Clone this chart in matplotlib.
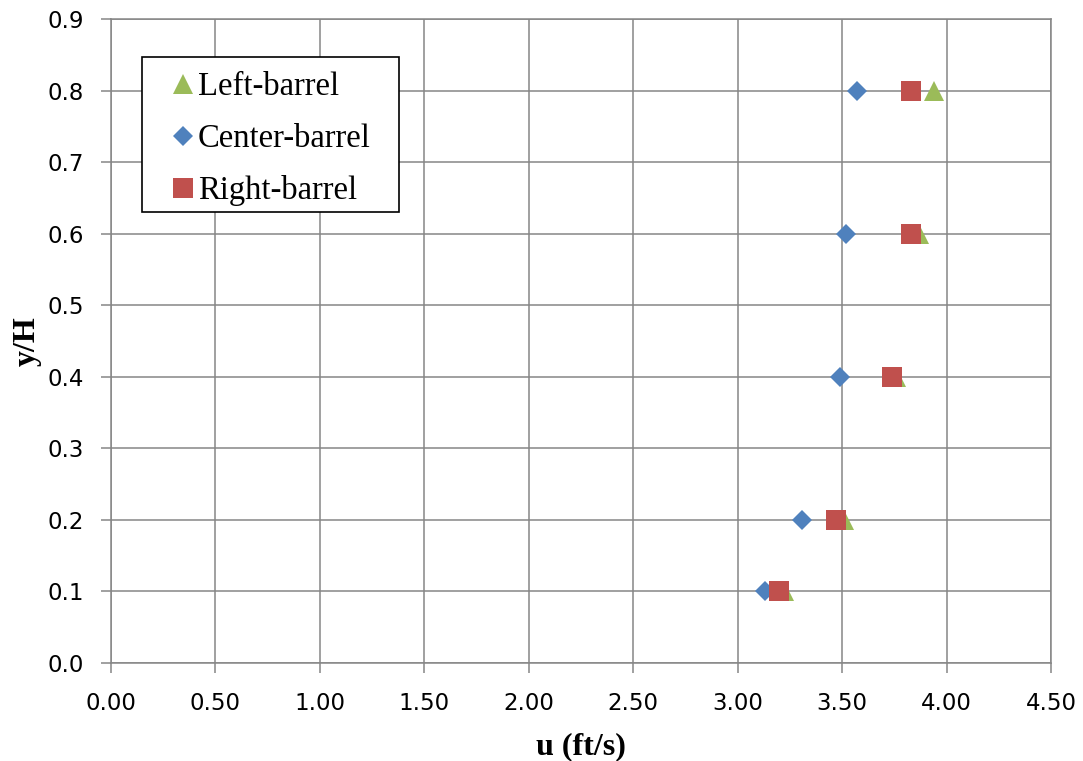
import matplotlib
matplotlib.use("Agg")
import matplotlib.pyplot as plt
from matplotlib.patches import Rectangle

y_levels = [0.1, 0.2, 0.4, 0.6, 0.8]
u_left = [3.22, 3.51, 3.76, 3.87, 3.94]
u_center = [3.13, 3.31, 3.49, 3.52, 3.57]
u_right = [3.20, 3.47, 3.74, 3.83, 3.83]

x_ticks = [0.0, 0.5, 1.0, 1.5, 2.0, 2.5, 3.0, 3.5, 4.0, 4.5]
y_ticks = [0.0, 0.1, 0.2, 0.3, 0.4, 0.5, 0.6, 0.7, 0.8, 0.9]

green = "#9BBB59"
blue = "#4F81BD"
red = "#C0504D"
grid_c = "#868686"

fig = plt.figure(figsize=(10.83, 7.61), dpi=100)
ax = fig.add_axes([111/1083, 1-663/761, 940/1083, 644/761])

ax.plot(u_left, y_levels, linestyle="none", marker="^", ms=15, mew=0, color=green, label="Left-barrel", zorder=3)
ax.plot(u_center, y_levels, linestyle="none", marker="D", ms=10, mew=0, color=blue, label="Center-barrel", zorder=3)
ax.plot(u_right, y_levels, linestyle="none", marker="s", ms=14.5, mew=0, color=red, label="Right-barrel", zorder=3)

ax.set_xlim(0, 4.5)
ax.set_ylim(0, 0.9)
ax.set_xticks(x_ticks)
ax.set_xticklabels([f"{v:.2f}" for v in x_ticks])
ax.set_yticks(y_ticks)
ax.set_yticklabels([f"{v:.1f}" for v in y_ticks])
ax.grid(True, color=grid_c, linewidth=1.1)
ax.set_axisbelow(True)
for s in ax.spines.values():
    s.set_color(grid_c)
    s.set_linewidth(1.1)
ax.tick_params(axis="both", colors=grid_c, labelcolor="black", labelsize=16.5,
               length=7, width=1.1, direction="out")
ax.tick_params(axis="x", pad=14)
ax.tick_params(axis="y", pad=12.5)

ax.set_xlabel("u (ft/s)", family="Liberation Serif", fontweight="bold", fontsize=23, labelpad=12)
ax.set_ylabel("y/H", family="Liberation Serif", fontweight="bold", fontsize=23, labelpad=4)

# legend frame drawn separately
frame = Rectangle((0.033, 0.7003), 0.3064 - 0.033, 0.941 - 0.7003, transform=ax.transAxes,
                  facecolor="white", edgecolor="black", linewidth=1.2, zorder=4)
ax.add_patch(frame)

leg = ax.legend(loc="upper left", bbox_to_anchor=(0.0641, 0.9183), frameon=False,
                prop={"family": "Liberation Serif", "size": 23.5},
                handlelength=0.72, handletextpad=0.1, labelspacing=0.653,
                borderpad=0, borderaxespad=0, numpoints=1)
leg.set_zorder(5)

fig.savefig("out.png", dpi=100)
